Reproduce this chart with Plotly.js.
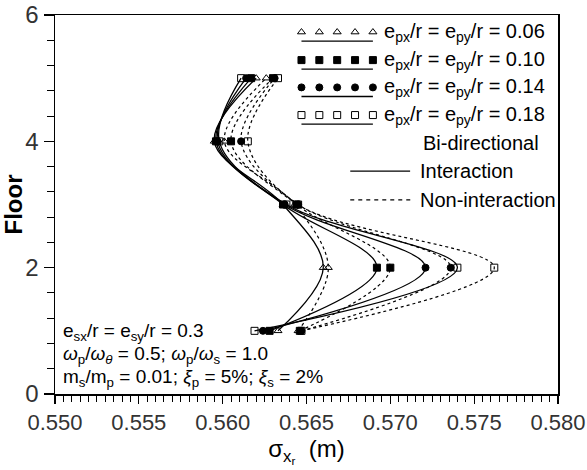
<!DOCTYPE html>
<html>
<head>
<meta charset="utf-8">
<script src="https://cdn.plot.ly/plotly-3.0.1.min.js"></script>
<style>html,body{margin:0;padding:0;background:#fff;}#chart{width:587px;height:470px;}</style>
</head>
<body>
<div id="chart"></div>
<script>
// ---- data ----
const floors = [1, 2, 3, 4, 5];
const eccLabels = ["0.06", "0.10", "0.14", "0.18"];
// Interaction (solid)
const int006 = [0.5633, 0.5660, 0.5636, 0.5595, 0.5620];
const int010 = [0.5628, 0.5692, 0.5636, 0.5596, 0.5617];
const int014 = [0.5624, 0.5721, 0.5637, 0.5597, 0.5614];
const int018 = [0.5619, 0.5740, 0.5638, 0.5598, 0.5611];
// Non-interaction (dashed)
const non006 = [0.5645, 0.5663, 0.5643, 0.5601, 0.5626];
const non010 = [0.5646, 0.5700, 0.5644, 0.5605, 0.5630];
const non014 = [0.5647, 0.5736, 0.5645, 0.5611, 0.5631];
const non018 = [0.5647, 0.5762, 0.5645, 0.5615, 0.5633];

const interaction = [int006, int010, int014, int018];
const nonInteraction = [non006, non010, non014, non018];
const symbols = ["triangle-up-open", "square", "circle", "square-open"];

const FONT = "Liberation Sans, Arial, sans-serif";
const traces = [];
for (let i = 0; i < 4; i++) {
  traces.push({
    x: interaction[i], y: floors, type: "scatter", mode: "lines+markers",
    line: {color: "#000", width: 1.3, shape: "spline", smoothing: 1},
    marker: {symbol: symbols[i], size: 7, color: "#000", line: {color: "#000", width: 1}},
    showlegend: false, hoverinfo: "skip"
  });
  traces.push({
    x: nonInteraction[i], y: floors, type: "scatter", mode: "lines+markers",
    line: {color: "#000", width: 1.2, dash: "3px,3px", shape: "spline", smoothing: 1},
    marker: {symbol: symbols[i], size: 7, color: "#000", line: {color: "#000", width: 1}},
    showlegend: false, hoverinfo: "skip"
  });
}

// ---- hand-built legend (overlay axes spanning the plot area) ----
const legX0 = 0.490, legX1 = 0.632;
const legRows = [0.955, 0.881, 0.809, 0.736];
const shapes = [];
const annotations = [];
for (let i = 0; i < 4; i++) {
  const xs = [], ys = [];
  for (let k = 0; k < 5; k++) { xs.push(legX0 + k * (legX1 - legX0) / 4); ys.push(legRows[i]); }
  traces.push({
    x: xs, y: ys, xaxis: "x2", yaxis: "y2", type: "scatter", mode: "markers",
    marker: {symbol: symbols[i], size: 7, color: "#000", line: {color: "#000", width: 1}},
    showlegend: false, hoverinfo: "skip"
  });
  shapes.push({type: "line", xref: "paper", yref: "paper", x0: legX0, x1: legX1,
    y0: legRows[i] - 0.024, y1: legRows[i] - 0.024, line: {color: "#000", width: 1.3}});
  annotations.push({xref: "paper", yref: "paper", x: 0.650, y: legRows[i], xanchor: "left", yanchor: "middle",
    showarrow: false, font: {family: FONT, size: 20, color: "#000"},
    text: "e<sub>px</sub>/r = e<sub>py</sub>/r = " + eccLabels[i]});
}
annotations.push({xref: "paper", yref: "paper", x: 0.847, y: 0.662, xanchor: "center", yanchor: "middle",
  showarrow: false, font: {family: FONT, size: 20, color: "#000"}, text: "Bi-directional"});
shapes.push({type: "line", xref: "paper", yref: "paper", x0: 0.587, x1: 0.706, y0: 0.588, y1: 0.588,
  line: {color: "#000", width: 1.3}});
annotations.push({xref: "paper", yref: "paper", x: 0.722, y: 0.588, xanchor: "left", yanchor: "middle",
  showarrow: false, font: {family: FONT, size: 20, color: "#000"}, text: "Interaction"});
shapes.push({type: "line", xref: "paper", yref: "paper", x0: 0.587, x1: 0.710, y0: 0.512, y1: 0.512,
  line: {color: "#000", width: 1.2, dash: "4px,4px"}});
annotations.push({xref: "paper", yref: "paper", x: 0.722, y: 0.512, xanchor: "left", yanchor: "middle",
  showarrow: false, font: {family: FONT, size: 20, color: "#000"}, text: "Non-interaction"});

// parameter note
const noteLines = [
  "e<sub>sx</sub>/r = e<sub>sy</sub>/r = 0.3",
  "<i>ω</i><sub>p</sub>/<i>ω</i><sub><i>θ</i></sub> = 0.5; <i>ω</i><sub>p</sub>/<i>ω</i><sub>s</sub> = 1.0",
  "m<sub>s</sub>/m<sub>p</sub> = 0.01; <i>ξ</i><sub>p</sub> = 5%; <i>ξ</i><sub>s</sub> = 2%"
];
const noteY = [0.164, 0.103, 0.042];
for (let i = 0; i < 3; i++) {
  annotations.push({xref: "paper", yref: "paper", x: 0.012, y: noteY[i], xanchor: "left", yanchor: "middle",
    showarrow: false, font: {family: FONT, size: 19, color: "#000"}, text: noteLines[i]});
}

const layout = {
  width: 587, height: 470,
  margin: {l: 55, r: 29, t: 15, b: 76},
  paper_bgcolor: "#fff", plot_bgcolor: "#fff",
  font: {family: FONT, color: "#000"},
  showlegend: false,
  xaxis: {
    range: [0.550, 0.580], dtick: 0.005, tick0: 0.55, tickformat: ".3f",
    showgrid: false, zeroline: false,
    showline: true, mirror: true, linecolor: "#000", linewidth: 1.5,
    ticks: "outside", ticklen: 8, tickwidth: 1.2, tickcolor: "#000",
    minor: {dtick: 0.0005, ticks: "outside", ticklen: 6, tickwidth: 1, tickcolor: "#000", showgrid: false},
    tickfont: {family: FONT, size: 22, color: "#333"},
    ticklabeloverflow: "allow",
    title: {text: "σ<sub>x<sub>r</sub></sub>  (m)", font: {family: FONT, size: 24, color: "#000"}, standoff: 4}
  },
  yaxis: {
    range: [0, 6], dtick: 2, tick0: 0,
    showgrid: false, zeroline: false,
    showline: true, mirror: true, linecolor: "#000", linewidth: 1.5,
    ticks: "outside", ticklen: 10, tickwidth: 1.2, tickcolor: "#000",
    minor: {dtick: 0.4, ticks: "outside", ticklen: 7, tickwidth: 1, tickcolor: "#000", showgrid: false},
    tickfont: {family: FONT, size: 24, color: "#333"},
    title: {text: "<b>Floor</b>", font: {family: FONT, size: 24, color: "#000"}, standoff: 4}
  },
  xaxis2: {overlaying: "x", anchor: "y2", range: [0, 1], visible: false},
  yaxis2: {overlaying: "y", anchor: "x2", range: [0, 1], visible: false},
  shapes: shapes,
  annotations: annotations
};

Plotly.newPlot("chart", traces, layout, {staticPlot: true, displayModeBar: false});
</script>
</body>
</html>
